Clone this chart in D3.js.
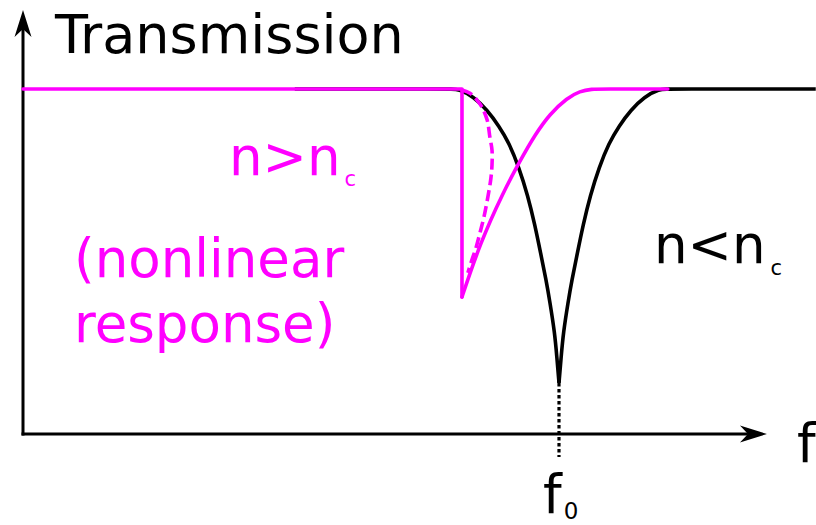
<!DOCTYPE html>
<html>
<head>
<meta charset="utf-8">
<script src="https://cdn.jsdelivr.net/npm/d3@7"></script>
<style>
  body { margin: 0; background: #fff; }
  text { font-family: "DejaVu Sans", sans-serif; }
</style>
</head>
<body>
<script>
// frequency is in units of f0, transmission goes from 0 to 1

// n < nc : linear resonance dip (left branch down to f0, right branch back up)
const linLeftF = [0.507, 0.795, 0.813, 0.841, 0.866, 0.888, 0.907, 0.925, 0.942, 0.955, 0.966, 0.976, 0.983, 0.992, 0.996, 1.000];
const linLeftT = [1.000, 1.000, 1.000, 0.977, 0.939, 0.893, 0.843, 0.774, 0.690, 0.606, 0.522, 0.446, 0.383, 0.293, 0.223, 0.148];
const linRightF = [1.000, 1.004, 1.008, 1.017, 1.024, 1.034, 1.045, 1.058, 1.075, 1.093, 1.112, 1.134, 1.159, 1.187, 1.205, 1.479];
const linRightT = [0.148, 0.223, 0.293, 0.383, 0.446, 0.522, 0.606, 0.690, 0.774, 0.843, 0.893, 0.939, 0.977, 1.000, 1.000, 1.000];

// n > nc : nonlinear response, upper branch with the jump down
const jumpF = [0.000, 0.819, 0.819];
const jumpT = [1.000, 1.000, 0.397];
// lower branch going back up
const riseF = [0.819, 0.853, 0.896, 0.927, 0.955, 0.983, 1.015, 1.039, 1.062, 1.078, 1.203];
const riseT = [0.397, 0.554, 0.701, 0.791, 0.867, 0.928, 0.974, 0.994, 1.000, 1.000, 1.000];
// unstable branch (dashed)
const unstableF = [0.819, 0.834, 0.847, 0.856, 0.866, 0.871, 0.875, 0.875, 0.873, 0.868, 0.860, 0.853, 0.845, 0.838, 0.830];
const unstableT = [0.997, 0.988, 0.968, 0.948, 0.910, 0.861, 0.823, 0.780, 0.742, 0.693, 0.629, 0.586, 0.539, 0.507, 0.467];

const f0 = 1.0;
const dipMin = 0.148;

const width = 816;
const height = 525;
const magenta = "#ff00ff";

const svg = d3.select("body")
    .append("svg")
    .attr("width", width)
    .attr("height", height)
    .attr("viewBox", [0, 0, width, height]);

const x = d3.scaleLinear().domain([0, 1]).range([23, 559]);
const y = d3.scaleLinear().domain([0, 1]).range([434, 89]);

// axis ends (arrow tips) in data units
const xEnd = 1.388;
const yEnd = 1.229;

const pts = (fs, ts) => fs.map((f, i) => [f, ts[i]]);

// basis spline stays inside the hand-read points, so no bump over the flat parts
const smooth = d3.line().x(d => x(d[0])).y(d => y(d[1])).curve(d3.curveBasis);
const straight = d3.line().x(d => x(d[0])).y(d => y(d[1]));
const loose = d3.line().x(d => x(d[0])).y(d => y(d[1])).curve(d3.curveCatmullRom.alpha(0.5));

// axes with arrows
const axes = svg.append("g").attr("stroke", "#000").attr("stroke-width", 3).attr("fill", "none");
axes.append("line")
    .attr("x1", x(0)).attr("y1", y(0) + 1.5)
    .attr("x2", x(0)).attr("y2", y(yEnd) + 19);
axes.append("line")
    .attr("x1", x(0) - 1.5).attr("y1", y(0))
    .attr("x2", x(xEnd) - 19).attr("y2", y(0));

const arrow = "M0,0 L-27,-8.5 L-19,0 L-27,8.5 Z";
svg.append("path")
    .attr("d", arrow)
    .attr("transform", `translate(${x(xEnd)},${y(0)})`);
svg.append("path")
    .attr("d", arrow)
    .attr("transform", `translate(${x(0)},${y(yEnd)}) rotate(-90)`);

// dotted guide from the dip down to f0
svg.append("line")
    .attr("x1", x(f0)).attr("x2", x(f0))
    .attr("y1", y(dipMin)).attr("y2", y(-0.067))
    .attr("stroke", "#000")
    .attr("stroke-width", 3.2)
    .attr("stroke-dasharray", "3.5,2.5");

// linear curve
const lin = svg.append("g")
    .attr("fill", "none")
    .attr("stroke", "#000")
    .attr("stroke-width", 3.6);
lin.append("path").attr("d", smooth(pts(linLeftF, linLeftT)));
lin.append("path").attr("d", smooth(pts(linRightF, linRightT)));

// nonlinear curve
const nl = svg.append("g")
    .attr("fill", "none")
    .attr("stroke", magenta)
    .attr("stroke-width", 3.6)
    .attr("stroke-linejoin", "round")
    .attr("stroke-linecap", "round");
nl.append("path").attr("d", straight(pts(jumpF, jumpT)));
nl.append("path").attr("d", smooth(pts(riseF, riseT)));
nl.append("path")
    .attr("d", loose(pts(unstableF, unstableT)))
    .attr("stroke-linecap", "butt")
    .attr("stroke-dasharray", "11,5");

// labels
svg.append("text")
    .attr("x", 55).attr("y", 53)
    .attr("font-size", 54)
    .text("Transmission");

svg.append("text")
    .attr("x", 797).attr("y", 462)
    .attr("font-size", 53)
    .text("f");

const f0Label = svg.append("text")
    .attr("x", x(f0) - 16).attr("y", 513)
    .attr("font-size", 53);
f0Label.append("tspan").text("f");
f0Label.append("tspan").attr("font-size", 23).attr("dy", 6).attr("dx", 2).text("0");

const above = svg.append("text")
    .attr("x", 229).attr("y", 175)
    .attr("font-size", 53)
    .attr("fill", magenta);
above.append("tspan").text("n>n");
above.append("tspan").attr("font-size", 21).attr("dy", 11).attr("dx", 4).text("c");

svg.append("text")
    .attr("x", 74).attr("y", 277)
    .attr("font-size", 53)
    .attr("fill", magenta)
    .text("(nonlinear");
svg.append("text")
    .attr("x", 74).attr("y", 342)
    .attr("font-size", 53)
    .attr("fill", magenta)
    .text("response)");

const below = svg.append("text")
    .attr("x", 654).attr("y", 263)
    .attr("font-size", 53);
below.append("tspan").text("n<n");
below.append("tspan").attr("font-size", 21).attr("dy", 12).attr("dx", 5).text("c");
</script>
</body>
</html>
